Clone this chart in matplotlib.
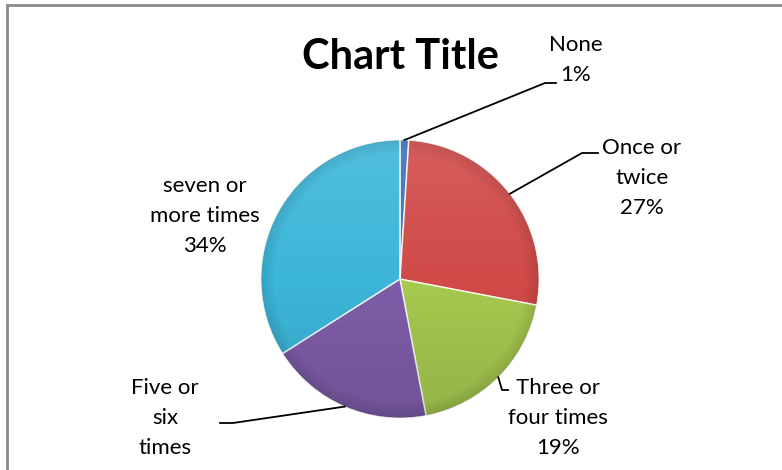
import matplotlib
matplotlib.use('Agg')
import matplotlib.pyplot as plt
from matplotlib.patches import Wedge, Rectangle, Circle
import numpy as np

plt.rcParams['font.family'] = ['Lato', 'DejaVu Sans']

# survey answers, share of respondents in percent
categories = ['None', 'Once or twice', 'Three or four times', 'Five or six times', 'seven or more times']
label_text = ['None', 'Once or\ntwice', 'Three or\nfour times', 'Five or\nsix\ntimes', 'seven or\nmore times']
shares = [1, 27, 19, 19, 34]
show_pct = [True, True, True, False, True]   # the last line of the "Five or six" label falls off the chart
colors = ['#3E72BC', '#D04A48', '#A6C94F', '#7E5DA8', '#3CB6D9']

W, H = 782, 470
fig = plt.figure(figsize=(W / 100, H / 100), dpi=100)
ax = fig.add_axes([0, 0, 1, 1])

# chart frame (top and left edge visible, rest runs off the canvas)
ax.add_patch(Rectangle((7, -20), W + 20, H - 4.5 + 20, fill=False, ec='#8a8a8a', lw=2))

cx, cy, R = 400, H - 279, 139

wedges, _ = ax.pie(shares, colors=colors, startangle=90, counterclock=False,
                   center=(cx, cy), radius=R, frame=True,
                   wedgeprops=dict(edgecolor='white', linewidth=0.6))
ax.set_xlim(0, W)
ax.set_ylim(0, H)
ax.set_aspect('equal')
ax.axis('off')

# bevel shading: darker outer rim, light seams
for w in wedges:
    for k in range(8):
        ax.add_patch(Wedge((cx, cy), R - k * 1.6, w.theta1, w.theta2, width=1.6,
                           fc='black', ec='none', alpha=0.10 * (1 - k / 8)))
    for ang in (w.theta1, w.theta2):
        t = np.deg2rad(ang)
        ax.plot([cx, cx + R * np.cos(t)], [cy, cy + R * np.sin(t)],
                color='white', alpha=0.35, lw=1.2, solid_capstyle='butt')

# soft top-to-bottom light over the whole pie
grad = np.linspace(1, 0, 256).reshape(-1, 1)
shade = np.zeros((256, 1, 4))
shade[..., :3] = np.where(grad[..., None] > 0.5, 1.0, 0.0)
shade[..., 3] = np.abs(grad - 0.5) * 0.22
img = ax.imshow(shade, extent=(cx - R, cx + R, cy - R, cy + R), origin='upper',
                aspect='auto', interpolation='bilinear', zorder=3)
img.set_clip_path(Circle((cx, cy), R, transform=ax.transData))
ax.set_xlim(0, W)
ax.set_ylim(0, H)

ax.text(400, H - 57, 'Chart Title', ha='center', va='center',
        fontsize=30, fontweight='bold', color='black')

# data labels with leader lines
lab_pos = [(576, 60), (642, 178), (558, 418), (165, 418), (205, 216)]
elbows = [((545, 83), (556, 83)), ((582, 153), (598, 153)),
          ((502, 390), (508, 390)), ((233, 423), (220, 423)), None]
bounds = np.cumsum([0] + shares)
total = sum(shares)
for i, cat in enumerate(categories):
    mid = 90 - 360 * (bounds[i] + bounds[i + 1]) / 2 / total
    t = np.deg2rad(mid)
    sx, sy = cx + R * np.cos(t), cy + R * np.sin(t)
    if elbows[i] is not None:
        (ex, ey), (hx, hy) = elbows[i]
        ax.plot([sx, ex, hx], [sy, H - ey, H - hy], color='black', lw=1.3)
    pct = round(100 * shares[i] / total)
    txt = f'{label_text[i]}\n{pct}%' if show_pct[i] else label_text[i]
    ax.text(lab_pos[i][0], H - lab_pos[i][1], txt, ha='center', va='center',
            fontsize=16, linespacing=1.62, color='black', zorder=5)

fig.savefig('out.png', dpi=100)
